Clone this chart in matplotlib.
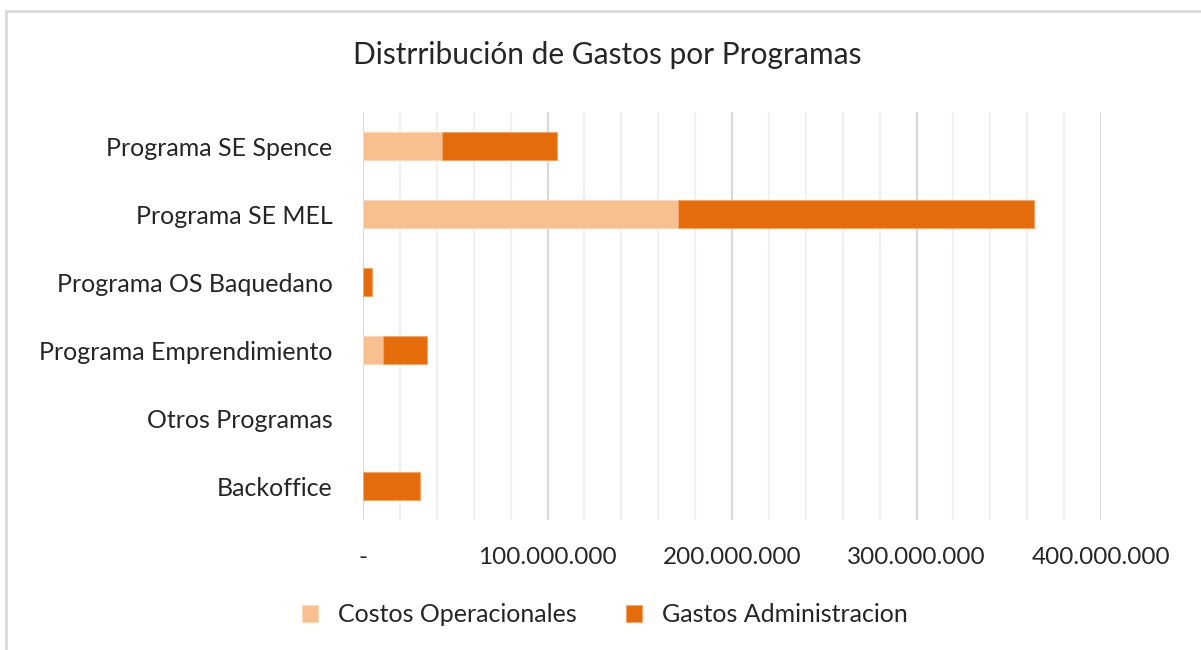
import matplotlib
matplotlib.use("Agg")
import matplotlib.pyplot as plt
from matplotlib.ticker import FixedLocator, MultipleLocator
from matplotlib.patches import Rectangle

categories = ["Programa SE Spence", "Programa SE MEL", "Programa OS Baquedano",
              "Programa Emprendimiento", "Otros Programas", "Backoffice"]
costos_operacionales = [43.0e6, 170.8e6, 0.0, 11.0e6, 0.0, 0.0]
gastos_administracion = [61.9e6, 193.0e6, 4.7e6, 23.5e6, 0.0, 30.7e6]
tick_values = [0, 100e6, 200e6, 300e6, 400e6]
tick_labels = ["-", "100.000.000", "200.000.000", "300.000.000", "400.000.000"]

plt.rcParams['font.family'] = ['Lato', 'DejaVu Sans']

W, H = 1201, 650
fig = plt.figure(figsize=(W / 100, H / 100), dpi=100)
fig.patch.set_facecolor("white")

# chart border
fig.add_artist(Rectangle((6 / W, 0 - 0.01), 1.2, (H - 11) / H + 0.01,
                         transform=fig.transFigure, fill=False,
                         edgecolor="#d9d9d9", linewidth=2))

ax = fig.add_axes([363 / W, 1 - 520 / H, (1101 - 363) / W, (520 - 112) / H])

c_light = "#F8BF8F"
c_dark = "#E46C0A"
y = list(range(len(categories)))
ec_light = ["#FBD9BC" if v > 0 else "none" for v in costos_operacionales]
ec_dark = ["#F2A56A" if v > 0 else "none" for v in gastos_administracion]
ax.barh(y, costos_operacionales, height=0.4, color=c_light,
        edgecolor=ec_light, linewidth=0.8, label="Costos Operacionales", zorder=3)
ax.barh(y, gastos_administracion, left=costos_operacionales, height=0.4, color=c_dark,
        edgecolor=ec_dark, linewidth=0.8, label="Gastos Administracion", zorder=3)

fs = 17.5
ax.set_ylim(len(categories) - 0.5, -0.5)
ax.set_xlim(0, 400e6)
ax.set_yticks(y)
ax.set_yticklabels(categories, fontsize=18, color="#262626")
ax.xaxis.set_major_locator(FixedLocator(tick_values))
ax.set_xticklabels(tick_labels, fontsize=fs, color="#262626")
ax.xaxis.set_minor_locator(MultipleLocator(20e6))
ax.grid(axis="x", which="major", color="#d9d9d9", linewidth=1.6, zorder=0)
ax.grid(axis="x", which="minor", color="#f0f0f0", linewidth=1.6, zorder=0)
ax.tick_params(axis="y", length=0, pad=22)
ax.tick_params(axis="x", which="both", length=0, pad=19.5)
for s in ax.spines.values():
    s.set_visible(False)

fig.text(607 / W, 1 - 55 / H, "Distrribución de Gastos por Programas",
         ha="center", va="center", fontsize=21.5, color="#262626")

leg = fig.legend(loc="center", bbox_to_anchor=(605 / W, 1 - 615 / H), ncol=2,
                 frameon=False, fontsize=18, handlelength=0.65, handleheight=0.65,
                 columnspacing=1.95, handletextpad=0.8)
for t in leg.get_texts():
    t.set_color("#262626")

fig.savefig("out.png", dpi=100)
